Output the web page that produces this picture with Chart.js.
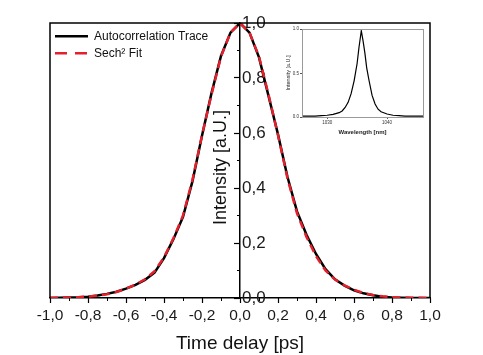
<!DOCTYPE html>
<html><head><meta charset="utf-8">
<script src="https://cdn.jsdelivr.net/npm/chart.js@4.4.0/dist/chart.umd.min.js"></script>
<style>
html,body{margin:0;padding:0;background:#fff;}
#wrap{position:relative;width:483px;height:355px;overflow:hidden;}
#main{position:absolute;left:0;top:0;}
#inset{position:absolute;left:276px;top:22px;}
</style></head><body>
<div id="wrap"><canvas id="main" width="483" height="355"></canvas><canvas id="inset" width="152" height="122"></canvas></div>
<script>
// ---- data ----
const timeDelay = [-1.00,-0.95,-0.90,-0.85,-0.80,-0.75,-0.70,-0.65,-0.60,-0.55,-0.50,-0.45,-0.40,-0.35,-0.30,-0.25,-0.20,-0.15,-0.10,-0.05,0.00,
  0.05,0.10,0.15,0.20,0.25,0.30,0.35,0.40,0.45,0.50,0.55,0.60,0.65,0.70,0.75,0.80,0.85,0.90,0.95,1.00];
const traceIntensity = [0.000,0.001,0.002,0.003,0.005,0.009,0.015,0.023,0.034,0.048,0.066,0.092,0.145,0.215,0.295,0.425,0.590,0.745,0.880,0.965,1.000,
  0.965,0.875,0.735,0.595,0.440,0.315,0.230,0.160,0.105,0.068,0.045,0.028,0.017,0.010,0.005,0.002,0.001,0.000,0.000,0.000];
const fitIntensity = [0.001,0.001,0.002,0.003,0.005,0.008,0.014,0.022,0.034,0.049,0.068,0.097,0.148,0.218,0.300,0.430,0.592,0.740,0.878,0.965,1.000,
  0.965,0.878,0.740,0.592,0.435,0.308,0.222,0.152,0.100,0.067,0.046,0.030,0.018,0.011,0.006,0.003,0.002,0.001,0.001,0.000];
const seriesNames = ['Autocorrelation Trace', 'Sech\u00B2 Fit'];
const xTickLabels = ['-1,0','-0,8','-0,6','-0,4','-0,2','0,0','0,2','0,4','0,6','0,8','1,0'];
const yTickLabels = ['0,0','0,2','0,4','0,6','0,8','1,0'];
const xTitle = 'Time delay [ps]';
const yTitle = 'Intensity [a.U.]';

const insetWavelength = [1025.8,1027,1028,1029,1030,1031,1032,1032.5,1033,1033.5,1034,1034.5,1035,1035.3,1035.7,1036,1036.3,1036.6,1037,1037.5,1038,1038.5,1039,1040,1041,1042,1043,1044,1046];
const insetIntensity  = [0.010,0.010,0.010,0.015,0.020,0.030,0.050,0.070,0.110,0.170,0.270,0.420,0.620,0.800,1.000,0.880,0.740,0.570,0.420,0.250,0.150,0.090,0.060,0.035,0.020,0.015,0.010,0.010,0.010];
const insetXTickLabels = ['1030','1040'];
const insetYTickLabels = ['0.0','0.5','1.0'];
const insetXTitle = 'Wavelength [nm]';
const insetYTitle = 'Intensity [a.U.]';

// ---- helpers ----
const FONT = '"Liberation Sans", Arial, sans-serif';
const mctx = document.createElement('canvas').getContext('2d');
mctx.font = '17px ' + FONT;
const yLabelW = mctx.measureText('0,8').width;

const toPts = (xs, ys) => xs.map((x, i) => ({x: x, y: ys[i]}));

const framePlugin = {
  id: 'frame',
  afterDraw(chart) {
    const {ctx, chartArea: a} = chart;
    ctx.save();
    ctx.strokeStyle = '#000';
    ctx.lineWidth = 1.5;
    ctx.beginPath();
    ctx.moveTo(a.left, a.bottom); ctx.lineTo(a.left, a.top);
    ctx.lineTo(a.right, a.top); ctx.lineTo(a.right, a.bottom);
    ctx.stroke();
    // y-axis title, left of the centred axis, reading bottom-to-top
    const x0 = chart.scales.x.getPixelForValue(0);
    ctx.translate(x0 - 19, (a.top + a.bottom) / 2 + 7);
    ctx.rotate(-Math.PI / 2);
    ctx.fillStyle = '#111';
    ctx.font = '18px ' + FONT;
    ctx.textAlign = 'center';
    ctx.textBaseline = 'middle';
    ctx.fillText(yTitle, 0, 0);
    ctx.restore();
  }
};

new Chart(document.getElementById('main'), {
  type: 'line',
  data: {
    datasets: [
      {label: seriesNames[0], data: toPts(timeDelay, traceIntensity), borderColor: '#000', backgroundColor: '#000',
       borderWidth: 2.5, pointRadius: 0, tension: 0, order: 1},
      {label: seriesNames[1], data: toPts(timeDelay, fitIntensity), borderColor: '#e3202c', backgroundColor: '#e3202c',
       borderWidth: 2.5, borderDash: [8, 5], pointRadius: 0, tension: 0, order: 0}
    ]
  },
  options: {
    responsive: false, animation: false, devicePixelRatio: 1,
    layout: {padding: {left: 50, right: 53, top: 23, bottom: 0}},
    plugins: {
      legend: {
        position: 'chartArea', align: 'start',
        title: {display: true, text: '', font: {size: 1}, padding: {top: 0, bottom: 24}},
        labels: {
          usePointStyle: true, pointStyle: 'line', pointStyleWidth: 33, padding: 5,
          color: '#111', font: {family: FONT, size: 12},
          sort: (a, b) => a.datasetIndex - b.datasetIndex,
          generateLabels: chart => Chart.defaults.plugins.legend.labels.generateLabels(chart).map(l => {
            const ds = chart.data.datasets[l.datasetIndex];
            return Object.assign(l, {lineDash: ds.borderDash ? [12, 8] : [], lineWidth: 2.5, strokeStyle: ds.borderColor, lineCap: 'butt'});
          })
        }
      },
      tooltip: {enabled: false}
    },
    scales: {
      x: {
        type: 'linear', position: 'bottom', min: -1, max: 1,
        afterFit: s => { s.height = 57; },
        ticks: {stepSize: 0.2, padding: 3, color: '#1a1a1a', font: {family: FONT, size: 15.5},
                callback: (v, i) => xTickLabels[i], maxRotation: 0, autoSkip: false},
        grid: {drawOnChartArea: false, drawTicks: true, tickLength: 5, tickColor: '#000', tickWidth: 1.2},
        border: {display: true, color: '#000', width: 1.5},
        title: {display: true, text: xTitle, color: '#111', font: {family: FONT, size: 19}, padding: {top: 0, bottom: 0}}
      },
      xMinor: {
        type: 'linear', axis: 'x', position: {y: 0}, min: -1, max: 1,
        ticks: {stepSize: 0.1, display: false},
        grid: {drawOnChartArea: false, drawTicks: true, tickLength: 3, tickColor: '#000', tickWidth: 1},
        border: {display: false}
      },
      y: {
        type: 'linear', position: 'center', min: 0, max: 1,
        ticks: {stepSize: 0.2, padding: -(5 + 2 + yLabelW), color: '#1a1a1a', font: {family: FONT, size: 17},
                callback: (v, i) => yTickLabels[i]},
        grid: {drawOnChartArea: false, drawTicks: true, tickLength: 5, tickColor: '#000', tickWidth: 1.2},
        border: {display: true, color: '#000', width: 1.5}
      },
      yMinor: {
        type: 'linear', axis: 'y', position: 'center', min: 0, max: 1,
        ticks: {stepSize: 0.1, display: false},
        grid: {drawOnChartArea: false, drawTicks: true, tickLength: 3, tickColor: '#000', tickWidth: 1},
        border: {display: false}
      }
    }
  },
  plugins: [framePlugin]
});

// ---- inset spectrum ----
const insetFrame = {
  id: 'insetFrame',
  afterDraw(chart) {
    const {ctx, chartArea: a} = chart;
    ctx.save();
    ctx.strokeStyle = '#9a9a9a';
    ctx.lineWidth = 1;
    ctx.strokeRect(Math.round(a.left) + 0.5, Math.round(a.top) + 0.5, Math.round(a.right - a.left), Math.round(a.bottom - a.top));
    ctx.restore();
  }
};

new Chart(document.getElementById('inset'), {
  type: 'line',
  data: {datasets: [{data: toPts(insetWavelength, insetIntensity), borderColor: '#000', borderWidth: 1.2,
                     pointRadius: 0, tension: 0}]},
  options: {
    responsive: false, animation: false, devicePixelRatio: 1,
    layout: {padding: {left: 0, right: 5, top: 7, bottom: 0}},
    plugins: {legend: {display: false}, tooltip: {enabled: false}},
    scales: {
      x: {
        type: 'linear', min: 1025.8, max: 1046,
        afterFit: s => { s.height = 27; },
        ticks: {stepSize: 10, includeBounds: false, padding: 1, color: '#333', font: {family: FONT, size: 4.5},
                callback: (v, i) => insetXTickLabels[i], maxRotation: 0},
        grid: {drawOnChartArea: false, tickLength: 2, tickColor: '#555'},
        border: {display: false},
        title: {display: true, text: insetXTitle, color: '#222', font: {family: FONT, size: 6, weight: 'bold'}, padding: {top: 0, bottom: 8}}
      },
      y: {
        type: 'linear', min: 0, max: 1.02,
        afterFit: s => { s.width = 26; },
        ticks: {stepSize: 0.5, padding: 1, color: '#333', font: {family: FONT, size: 4.5},
                callback: (v, i) => insetYTickLabels[i]},
        grid: {drawOnChartArea: false, tickLength: 2, tickColor: '#555'},
        border: {display: false},
        title: {display: true, text: insetYTitle, color: '#222', font: {family: FONT, size: 5.5}, padding: {top: 9, bottom: 0}}
      }
    }
  },
  plugins: [insetFrame]
});
</script>
</body></html>
